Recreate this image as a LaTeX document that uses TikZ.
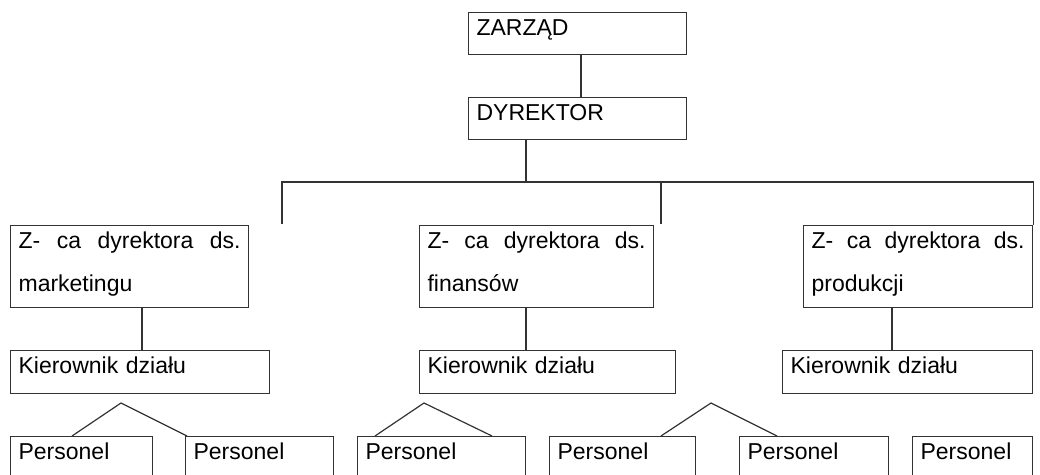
\documentclass[tikz,border=0pt]{standalone}
\usepackage{fontspec}
\setmainfont{Liberation Sans}

\begin{document}
\begin{tikzpicture}[x=0.5pt,y=-0.5pt,
    orgbox/.style={draw=black!80, line width=0.6pt, anchor=north west,
        inner xsep=4pt, inner ysep=0pt, align=left, text height=11.25pt,
        font=\fontsize{11.5}{21.5}\selectfont},
    link/.style={draw=black!80, line width=0.6pt}]
    \useasboundingbox (0,0) rectangle (1040,475);
    \clip (0,0) rectangle (1040,475);

    % Top of the structure
    \node[orgbox, text width=101pt, text depth=9.75pt] (zarzad) at (468,12) {ZARZĄD};
    \node[orgbox, text width=101pt, text depth=9.75pt] (dyrektor) at (468,97) {DYREKTOR};

    % Deputy directors
    \node[orgbox, text width=111pt, text depth=29.75pt] (zmark) at (10,225)
        {Z-\hfill ca\hfill dyrektora\hfill ds.\\marketingu};
    \node[orgbox, text width=109pt, text depth=29.75pt] (zfin) at (419,225)
        {Z-\hfill ca\hfill dyrektora\hfill ds.\\finansów};
    \node[orgbox, text width=106.5pt, text depth=29.75pt] (zprod) at (803,225)
        {Z-\hfill ca\hfill dyrektora\hfill ds.\\produkcji};

    % Heads of departments
    \node[orgbox, text width=121.5pt, text depth=10.25pt] (kmark) at (10,350) {Kierownik działu};
    \node[orgbox, text width=120pt, text depth=10.25pt] (kfin) at (419,350) {Kierownik działu};
    \node[orgbox, text width=117pt, text depth=10.25pt] (kprod) at (782,350) {Kierownik działu};

    % Staff (cut off at the bottom)
    \node[orgbox, text width=63pt, text depth=18.75pt] (pers1) at (10,436) {Personel};
    \node[orgbox, text width=66pt, text depth=18.75pt] (pers2) at (185,436) {Personel};
    \node[orgbox, text width=76pt, text depth=18.75pt] (pers3) at (357,436) {Personel};
    \node[orgbox, text width=65pt, text depth=18.75pt] (pers4) at (549,436) {Personel};
    \node[orgbox, text width=66.5pt, text depth=18.75pt] (pers5) at (739,436) {Personel};
    \node[orgbox, text width=52pt, text depth=18.75pt] (pers6) at (912,436) {Personel};

    % Vertical links
    \coordinate (xtop) at (581,0);
    \coordinate (xmark) at (142,0);
    \coordinate (xfin) at (526,0);
    \coordinate (xprod) at (892,0);
    \draw[link] (zarzad.south -| xtop) -- (dyrektor.north -| xtop);
    \draw[link] (zmark.south -| xmark) -- (kmark.north -| xmark);
    \draw[link] (zfin.south -| xfin) -- (kfin.north -| xfin);
    \draw[link] (zprod.south -| xprod) -- (kprod.north -| xprod);

    % Bus under the director
    \coordinate (busjoin) at (526,182);
    \coordinate (dropl) at (282,224);
    \coordinate (dropm) at (661,224);
    \draw[link] (dyrektor.south -| busjoin) -- (busjoin);
    \draw[link] (dropl) -- (dropl |- busjoin) -- (zprod.north east |- busjoin) -- (zprod.north east);
    \draw[link] (dropm) -- (dropm |- busjoin);

    % Forks to the staff
    \coordinate (amark) at (121,403);
    \coordinate (afin) at (424,403);
    \coordinate (aprod) at (711,403);
    \draw[link] ([xshift=31pt]pers1.north west) -- (amark) -- ([xshift=1pt]pers2.north west);
    \draw[link] ([xshift=9pt]pers3.north west) -- (afin) -- ([xshift=67.5pt]pers3.north west);
    \draw[link] ([xshift=56pt]pers4.north west) -- (aprod) -- ([xshift=19pt]pers5.north west);
\end{tikzpicture}
\end{document}
